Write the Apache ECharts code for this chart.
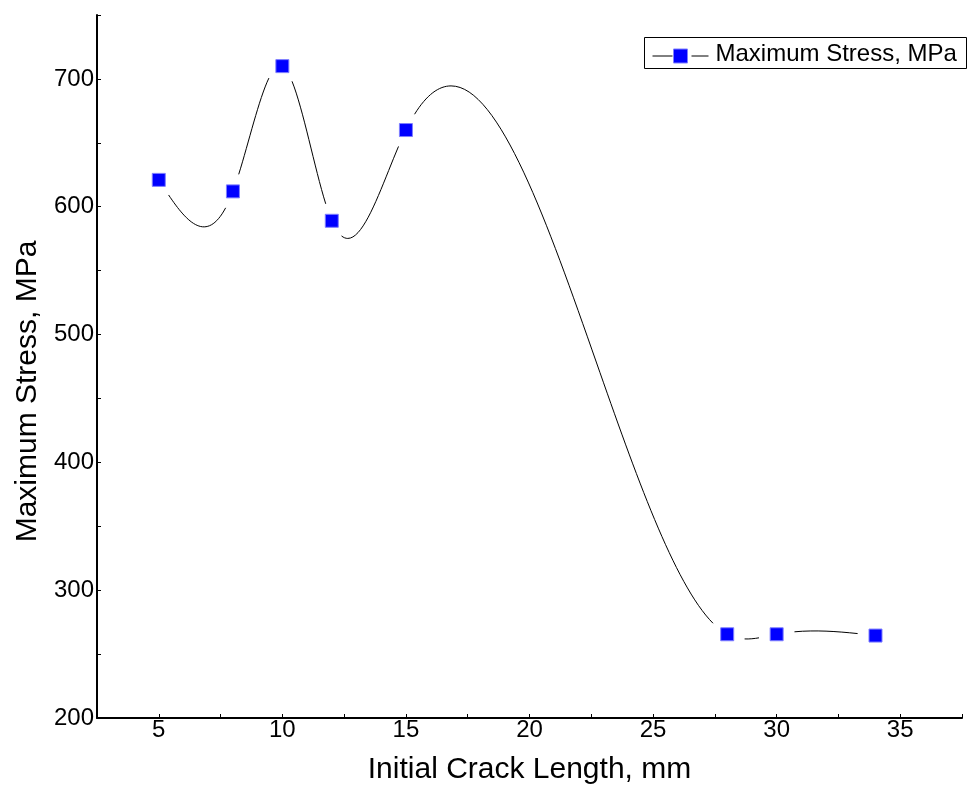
<!DOCTYPE html>
<html>
<head>
<meta charset="utf-8">
<title>Maximum Stress vs Initial Crack Length</title>
<script src="https://cdn.jsdelivr.net/npm/echarts@6/dist/echarts.min.js"></script>
<style>
  html, body { margin: 0; padding: 0; background: #fff; }
  #chart { width: 971px; height: 791px; }
</style>
</head>
<body>
<div id="chart"></div>
<script>
// values
const crackLength = [5, 8, 10, 12, 15, 28, 30, 34];          // mm
const maxStress = [621, 612, 710, 589, 660, 265.5, 265.5, 264.5]; // MPa
const seriesName = 'Maximum Stress, MPa';

const FONT = '"Liberation Sans", Arial, sans-serif';
const GAP = 18; // line stops short of the symbols, like Origin does

// natural cubic spline through the points, as bezier segments in data space
function splineSegments(xs, ys) {
  const n = xs.length;
  const h = [];
  for (let i = 0; i < n - 1; i++) h.push(xs[i + 1] - xs[i]);
  const a = [], b = [], c = [], d = [];
  for (let i = 1; i < n - 1; i++) {
    a.push(h[i - 1]);
    b.push(2 * (h[i - 1] + h[i]));
    c.push(h[i]);
    d.push(6 * ((ys[i + 1] - ys[i]) / h[i] - (ys[i] - ys[i - 1]) / h[i - 1]));
  }
  const m = n - 2;
  for (let i = 1; i < m; i++) {
    const w = a[i] / b[i - 1];
    b[i] -= w * c[i - 1];
    d[i] -= w * d[i - 1];
  }
  const M = new Array(n).fill(0);
  for (let i = m - 1; i >= 0; i--) {
    M[i + 1] = (d[i] - (i < m - 1 ? c[i] * M[i + 2] : 0)) / b[i];
  }
  const segs = [];
  for (let i = 0; i < n - 1; i++) {
    const s = (ys[i + 1] - ys[i]) / h[i];
    const d0 = s - h[i] * (2 * M[i] + M[i + 1]) / 6;
    const d1 = s + h[i] * (M[i] + 2 * M[i + 1]) / 6;
    segs.push([
      [xs[i], ys[i]],
      [xs[i] + h[i] / 3, ys[i] + d0 * h[i] / 3],
      [xs[i + 1] - h[i] / 3, ys[i + 1] - d1 * h[i] / 3],
      [xs[i + 1], ys[i + 1]]
    ]);
  }
  return segs;
}

function lerp(p, q, t) { return [p[0] + (q[0] - p[0]) * t, p[1] + (q[1] - p[1]) * t]; }

function split(p, t) {
  const p01 = lerp(p[0], p[1], t), p12 = lerp(p[1], p[2], t), p23 = lerp(p[2], p[3], t);
  const p012 = lerp(p01, p12, t), p123 = lerp(p12, p23, t);
  const mid = lerp(p012, p123, t);
  return [[p[0], p01, p012, mid], [mid, p123, p23, p[3]]];
}

function pointAt(p, t) { return split(p, t)[0][3]; }

function dist(p, q) { return Math.hypot(p[0] - q[0], p[1] - q[1]); }

// find t where the curve is `gap` px away from one end
function gapT(p, gap, fromEnd) {
  const end = fromEnd ? p[3] : p[0];
  let lo = fromEnd ? 0.5 : 0, hi = fromEnd ? 1 : 0.5;
  for (let k = 0; k < 30; k++) {
    const t = (lo + hi) / 2;
    const far = dist(pointAt(p, t), end) > gap;
    if (fromEnd) { if (far) lo = t; else hi = t; }
    else { if (far) hi = t; else lo = t; }
  }
  return (lo + hi) / 2;
}

const segments = splineSegments(crackLength, maxStress);
const points = crackLength.map((x, i) => [x, maxStress[i]]);

const chart = echarts.init(document.getElementById('chart'));

const option = {
  backgroundColor: '#fff',
  animation: false,
  grid: { left: 97, right: 9, top: 15, bottom: 73, containLabel: false },
  xAxis: {
    type: 'value',
    min: 2.5,
    max: 37.5,
    interval: 2.5,
    name: 'Initial Crack Length, mm',
    nameLocation: 'middle',
    nameGap: 37,
    nameTextStyle: { fontFamily: FONT, fontSize: 30, color: '#000' },
    axisLine: { lineStyle: { color: '#000', width: 2 } },
    axisTick: { inside: true, length: 4, lineStyle: { color: '#000', width: 1 } },
    axisLabel: {
      margin: 0,
      fontFamily: FONT,
      fontSize: 24,
      color: '#000',
      showMinLabel: true,
      showMaxLabel: true,
      formatter: v => (v % 5 === 0 ? String(v) : '')
    },
    splitLine: { show: false }
  },
  yAxis: {
    type: 'value',
    min: 200,
    max: 750,
    interval: 50,
    name: 'Maximum Stress, MPa',
    nameLocation: 'middle',
    nameRotate: 90,
    nameGap: 51,
    nameTextStyle: { fontFamily: FONT, fontSize: 30, color: '#000', padding: [0, 50, 0, 0] },
    axisLine: { show: true, lineStyle: { color: '#000', width: 2 } },
    axisTick: { show: true, inside: true, length: 4, lineStyle: { color: '#000', width: 1 } },
    axisLabel: {
      margin: 3,
      fontFamily: FONT,
      fontSize: 24,
      color: '#000',
      formatter: v => (v % 100 === 0 ? String(v) : '')
    },
    splitLine: { show: false }
  },
  series: [
    {
      type: 'custom',
      name: 'spline',
      data: points,
      encode: { x: 0, y: 1 },
      silent: true,
      z: 1,
      renderItem: function (params, api) {
        const i = params.dataIndex;
        if (i >= segments.length) return null;
        const p = segments[i].map(pt => api.coord(pt));
        const t0 = gapT(p, GAP, false);
        const t1 = gapT(p, GAP, true);
        const right = split(p, t1)[0];
        const q = split(right, t0 / t1)[1];
        return {
          type: 'bezierCurve',
          shape: {
            x1: q[0][0], y1: q[0][1],
            cpx1: q[1][0], cpy1: q[1][1],
            cpx2: q[2][0], cpy2: q[2][1],
            x2: q[3][0], y2: q[3][1]
          },
          style: { fill: 'none', stroke: '#000', lineWidth: 1 }
        };
      }
    },
    {
      type: 'scatter',
      name: seriesName,
      data: points,
      symbol: 'rect',
      symbolSize: 13,
      z: 3,
      itemStyle: { color: '#0000ff', borderColor: '#7f7fff', borderWidth: 1, opacity: 1 }
    }
  ],
  graphic: [
    {
      type: 'group',
      left: 644,
      top: 37,
      children: [
        { type: 'rect', shape: { x: 0, y: 0, width: 322, height: 31 }, style: { fill: '#fff', stroke: '#000', lineWidth: 1 } },
        { type: 'line', shape: { x1: 8, y1: 18.5, x2: 28, y2: 18.5 }, style: { stroke: '#000', lineWidth: 1 } },
        { type: 'line', shape: { x1: 47, y1: 18.5, x2: 64, y2: 18.5 }, style: { stroke: '#000', lineWidth: 1 } },
        { type: 'rect', shape: { x: 29, y: 11.5, width: 14, height: 14 }, style: { fill: '#0000ff', stroke: '#7f7fff', lineWidth: 1 } },
        {
          type: 'text',
          x: 71,
          y: 17,
          style: { text: seriesName, fontFamily: FONT, fontSize: 24, fill: '#000', verticalAlign: 'middle' }
        }
      ]
    }
  ]
};

chart.setOption(option);
window.onresize = function () {
  chart.resize();
};
</script>
</body>
</html>
